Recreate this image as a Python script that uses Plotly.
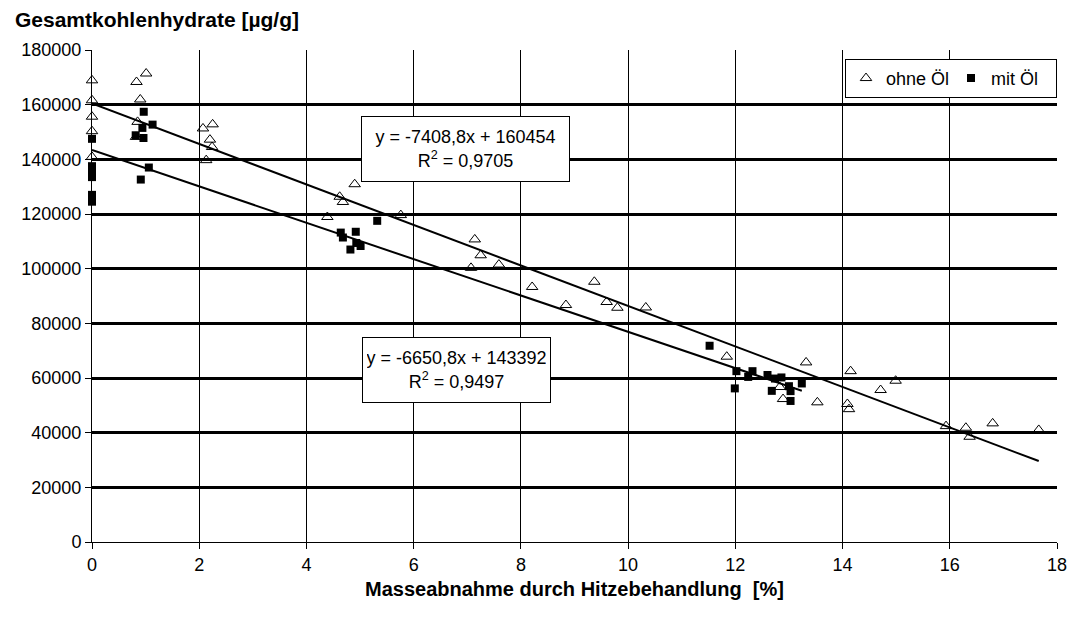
import plotly.graph_objects as go

# ---- data ----
ohne_x = [0, 0, 0, 0, 0,
          0.83, 1.01, 0.90, 0.85, 0.82,
          2.07, 2.25, 2.20, 2.24, 2.13,
          4.90, 4.62, 4.68, 4.39, 5.76,
          7.14, 7.25, 7.07, 7.59, 8.21, 8.84, 9.37, 9.60, 9.80, 10.33,
          11.84, 13.32, 12.83, 12.89, 13.53, 14.15, 14.09, 14.12,
          14.71, 14.99, 15.93, 16.30, 16.37, 16.80, 17.66]
ohne_y = [168900, 161600, 155600, 150300, 140900,
          168300, 171400, 161900, 153700, 148200,
          151300, 152800, 147200, 144500, 139700,
          130900, 126300, 124400, 118900, 119600,
          110700, 104900, 100300, 101500, 93300, 86700, 95200, 87800, 85700, 85800,
          67800, 65700, 56700, 52300, 51100, 62500, 50500, 48600,
          55600, 59000, 42400, 41800, 38500, 43400, 41000]

mit_x = [0, 0, 0, 0, 0, 0,
         0.965, 1.13, 0.94, 0.815, 0.96, 1.06, 0.91,
         5.32, 4.64, 4.92, 4.68, 4.93, 5.01, 4.82,
         11.52, 12.02, 11.99, 12.24, 12.32, 12.60, 12.68, 12.74, 12.86, 13.00, 13.03, 13.03, 13.24]
mit_y = [147500, 137500, 135500, 133500, 127000, 124500,
         157400, 152700, 151500, 148800, 147800, 137000, 132600,
         117500, 113200, 113500, 111400, 109400, 108300, 107000,
         71800, 62500, 56200, 60400, 62500, 61100, 55300, 59800, 60200, 57000, 55200, 51600, 58000]

# trend lines (coefficients as printed on the chart)
ohne_slope, ohne_icept, ohne_r2 = -7408.8, 160454, "0,9705"
mit_slope, mit_icept, mit_r2 = -6650.8, 143392, "0,9497"

x_ticks = [0, 2, 4, 6, 8, 10, 12, 14, 16, 18]
y_ticks = [0, 20000, 40000, 60000, 80000, 100000, 120000, 140000, 160000, 180000]

FONT = "Liberation Sans, Arial, sans-serif"

fig = go.Figure()

ohne_xr = [min(ohne_x), max(ohne_x)]
mit_xr = [min(mit_x), max(mit_x)]
fig.add_trace(go.Scatter(x=ohne_xr, y=[ohne_slope * v + ohne_icept for v in ohne_xr],
                         mode="lines", line=dict(color="black", width=2), showlegend=False,
                         hoverinfo="skip"))
fig.add_trace(go.Scatter(x=mit_xr, y=[mit_slope * v + mit_icept for v in mit_xr],
                         mode="lines", line=dict(color="black", width=2), showlegend=False,
                         hoverinfo="skip"))

fig.add_trace(go.Scatter(x=ohne_x, y=ohne_y, mode="markers", name="ohne Öl",
                         cliponaxis=False,
                         marker=dict(symbol="triangle-up-open", size=10, color="black",
                                     line=dict(color="black", width=1))))
fig.add_trace(go.Scatter(x=mit_x, y=mit_y, mode="markers", name="mit Öl",
                         cliponaxis=False,
                         marker=dict(symbol="square", size=8, color="black",
                                     line=dict(width=0))))

def fmt(v):
    return f"{v:.1f}".replace(".", ",")

fig.add_annotation(x=6.97, y=143900, xref="x", yref="y",
                   text=f"y = {fmt(ohne_slope)}x + {ohne_icept}<br>R<sup>2</sup> = {ohne_r2}",
                   showarrow=False, align="center", bgcolor="white",
                   bordercolor="black", borderwidth=1, borderpad=4,
                   width=199, height=56,
                   font=dict(family=FONT, size=18, color="black"))
fig.add_annotation(x=6.79, y=63100, xref="x", yref="y",
                   text=f"y = {fmt(mit_slope)}x + {mit_icept}<br>R<sup>2</sup> = {mit_r2}",
                   showarrow=False, align="center", bgcolor="white",
                   bordercolor="black", borderwidth=1, borderpad=4,
                   width=179, height=56,
                   font=dict(family=FONT, size=18, color="black"))

fig.update_layout(
    width=1069, height=617,
    margin=dict(l=92, r=12, t=50, b=75, autoexpand=False),
    paper_bgcolor="white", plot_bgcolor="white",
    font=dict(family=FONT, size=18, color="black"),
    title=dict(text="<b>Gesamtkohlenhydrate [µg/g]</b>", xref="container", yref="container",
               x=15 / 1069, xanchor="left", y=1 - 20 / 617, yanchor="middle",
               font=dict(family=FONT, size=21, color="black")),
    legend=dict(orientation="h", x=1.0, xanchor="right", y=0.982, yanchor="top",
                bgcolor="white", bordercolor="black", borderwidth=1,
                font=dict(family=FONT, size=18, color="black"),
                itemwidth=30, tracegroupgap=0,
                entrywidth=60, entrywidthmode="pixels"),
    showlegend=True,
)

fig.update_xaxes(range=[0, 18], tickvals=x_ticks, ticktext=[str(v) for v in x_ticks],
                 automargin=False,
                 showgrid=True, gridcolor="black", gridwidth=1,
                 zeroline=True, zerolinecolor="black", zerolinewidth=1,
                 showline=True, linecolor="black", linewidth=1,
                 ticks="outside", ticklen=6, tickcolor="black",
                 tickfont=dict(family=FONT, size=18, color="black"),
                 title=dict(text="<b>Masseabnahme durch Hitzebehandlung  [%]</b>",
                            font=dict(family=FONT, size=20, color="black"), standoff=8))
fig.update_yaxes(range=[0, 180000], tickvals=y_ticks, ticktext=[str(v) for v in y_ticks],
                 automargin=False,
                 showgrid=True, gridcolor="black", gridwidth=3,
                 zeroline=True, zerolinecolor="black", zerolinewidth=1,
                 showline=True, linecolor="black", linewidth=1,
                 ticks="outside", ticklen=6, tickcolor="black",
                 tickfont=dict(family=FONT, size=18, color="black"))

fig.write_html("out.html")
